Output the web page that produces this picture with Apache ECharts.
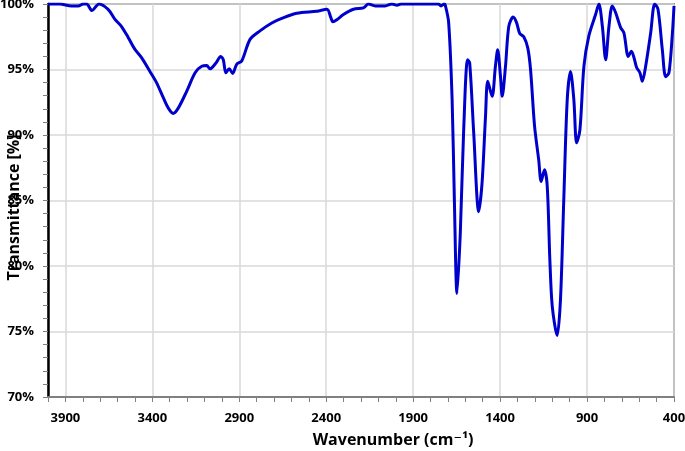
<!DOCTYPE html>
<html>
<head>
<meta charset="utf-8">
<script src="https://cdn.jsdelivr.net/npm/echarts@6/dist/echarts.min.js"></script>
<style>
  html, body { margin: 0; padding: 0; background: #fff; }
  #chart { width: 685px; height: 451px; }
</style>
</head>
<body>
<div id="chart"></div>
<script>
// FTIR spectrum
var wavenumbers = [
  4000, 3933, 3865, 3826, 3797, 3778, 3747, 3725, 3706, 3673, 3645, 3616, 3578, 3539, 3501,
  3462, 3414, 3376, 3337, 3308, 3280, 3251, 3202, 3154, 3116, 3087, 3069, 3034, 3007, 2992,
  2977, 2958, 2938, 2915, 2886, 2838, 2781, 2713, 2656, 2569, 2454, 2396, 2373, 2362, 2339,
  2301, 2243, 2186, 2157, 2118, 2061, 2022, 1993, 1970, 1860, 1754, 1740, 1721, 1715, 1696,
  1676, 1663, 1648, 1629, 1610, 1587, 1575, 1552, 1523, 1504, 1484, 1471, 1446, 1427, 1414,
  1398, 1388, 1369, 1350, 1325, 1306, 1287, 1264, 1241, 1225, 1202, 1178, 1164, 1145, 1129,
  1114, 1100, 1072, 1053, 1034, 1014, 995, 976, 960, 941, 918, 890, 851, 832, 812,
  793, 774, 755, 736, 707, 688, 663, 645, 630, 615, 596, 582, 563, 534, 511,
  492, 467, 448, 429, 409, 400
];
var transmittance = [
  100, 100, 99.85, 99.85, 100, 100, 99.5, 99.8, 100, 99.8, 99.45, 98.85, 98.3, 97.45, 96.55,
  95.9, 94.85, 94.0, 92.85, 92.05, 91.65, 92.05, 93.35, 94.75, 95.25, 95.3, 95.05, 95.5, 96.0, 95.75,
  94.75, 95.05, 94.7, 95.4, 95.65, 97.3, 97.95, 98.55, 98.9, 99.3, 99.45, 99.6, 98.95, 98.65, 98.8,
  99.2, 99.6, 99.7, 100, 99.85, 99.85, 100, 99.9, 100, 100, 100, 99.85, 100, 99.9, 98.6,
  92.7, 85.0, 77.9, 82.5, 90.2, 95.75, 95.5, 90.2, 84.15, 86.3, 91.4, 94.1, 92.95, 95.25, 96.5,
  94.5, 92.95, 95.25, 98.3, 99.0, 98.6, 97.75, 97.5, 96.65, 95.0, 90.7, 88.1, 86.45, 87.35, 86.1,
  80.5, 76.9, 74.7, 77.4, 85.0, 92.7, 94.85, 92.7, 89.4, 90.4, 95.25, 97.55, 99.2, 100, 98.3,
  95.75, 98.3, 99.85, 99.35, 98.2, 97.8, 96.0, 96.4, 95.9, 95.15, 94.75, 94.1, 95.25, 97.8, 100,
  99.6, 96.5, 94.45, 94.75, 97.8, 99.85
];

var seriesData = wavenumbers.map(function (w, i) { return [w, transmittance[i]]; });

var fontFamily = "'Open Sans', 'DejaVu Sans', sans-serif";

var chart = echarts.init(document.getElementById("chart"), null, { renderer: "canvas" });
chart.setOption({
  animation: false,
  grid: {
    left: 48,
    right: 11,
    top: 4,
    bottom: 54,
    outerBoundsMode: "none",
    containLabel: false,
    show: true,
    borderColor: "#808080",
    borderWidth: 2,
    backgroundColor: "#ffffff"
  },
  xAxis: {
    type: "value",
    inverse: true,
    min: 400,
    max: 4000,
    interval: 500,
    name: "Wavenumber (cm\u207B\u00B9)",
    nameLocation: "middle",
    nameGap: 35,
    nameMoveOverlap: false,
    nameTextStyle: {
      color: "#000",
      fontFamily: fontFamily,
      fontWeight: "bold",
      fontSize: 16,
      padding: [0, 0, 0, 64]
    },
    axisLine: { show: true, lineStyle: { color: "#808080", width: 2 } },
    axisTick: { show: true, length: 5, lineStyle: { color: "#808080", width: 1 } },
    minorTick: { show: true, splitNumber: 5, length: 5, lineStyle: { color: "#808080", width: 1 } },
    axisLabel: {
      color: "#000",
      fontFamily: fontFamily,
      fontWeight: "bold",
      fontSize: 13,
      margin: 15,
      showMaxLabel: false,
      formatter: function (v) { return String(v); }
    },
    splitLine: { show: true, lineStyle: { color: "#d9d9d9", width: 1.5 } }
  },
  yAxis: {
    type: "value",
    min: 70,
    max: 100,
    interval: 5,
    name: "Transmittance [%]",
    nameLocation: "middle",
    nameGap: 26,
    nameMoveOverlap: false,
    nameTextStyle: {
      color: "#000",
      fontFamily: fontFamily,
      fontWeight: "bold",
      fontSize: 16,
      padding: [0, 14, 0, 0]
    },
    axisLine: { show: true, lineStyle: { color: "#000", width: 2.5 } },
    axisTick: { show: true, length: 5, lineStyle: { color: "#808080", width: 1 } },
    minorTick: { show: true, splitNumber: 5, length: 5, lineStyle: { color: "#808080", width: 1 } },
    axisLabel: {
      color: "#000",
      fontFamily: fontFamily,
      fontWeight: "bold",
      fontSize: 13,
      margin: 14,
      formatter: "{value}%"
    },
    splitLine: { show: true, lineStyle: { color: "#d9d9d9", width: 1.5 } }
  },
  series: [
    {
      type: "line",
      data: seriesData,
      showSymbol: false,
      smooth: 0.3,
      clip: true,
      lineStyle: { color: "#0000CC", width: 3 },
      itemStyle: { color: "#0000CC" }
    }
  ]
});
</script>
</body>
</html>
